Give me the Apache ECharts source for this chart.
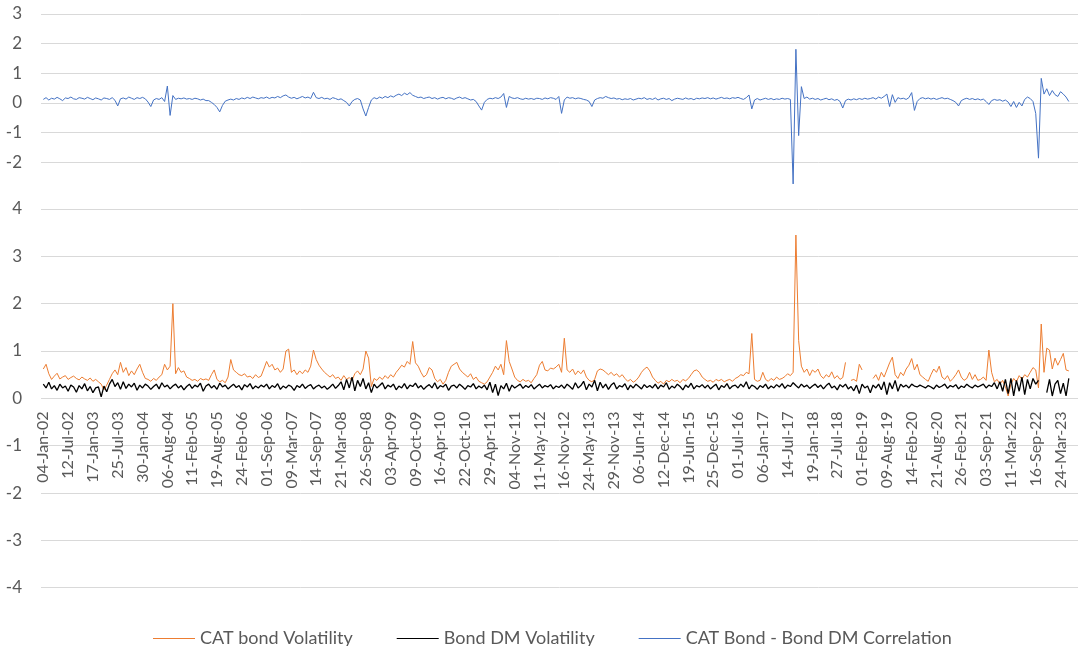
<!DOCTYPE html>
<html>
<head>
<meta charset="utf-8">
<script src="https://cdn.jsdelivr.net/npm/echarts@6/dist/echarts.min.js"></script>
<style>
  html, body { margin: 0; padding: 0; background: #fff; }
  #chart { width: 1078px; height: 646px; }
</style>
</head>
<body>
<div id="chart"></div>
<script>
// x tick labels, one every 27 weeks starting 04-Jan-02
const tickLabels = [
  '04-Jan-02', '12-Jul-02', '17-Jan-03', '25-Jul-03', '30-Jan-04', '06-Aug-04', '11-Feb-05',
  '19-Aug-05', '24-Feb-06', '01-Sep-06', '09-Mar-07', '14-Sep-07', '21-Mar-08', '26-Sep-08',
  '03-Apr-09', '09-Oct-09', '16-Apr-10', '22-Oct-10', '29-Apr-11', '04-Nov-11', '11-May-12',
  '16-Nov-12', '24-May-13', '29-Nov-13', '06-Jun-14', '12-Dec-14', '19-Jun-15', '25-Dec-15',
  '01-Jul-16', '06-Jan-17', '14-Jul-17', '19-Jan-18', '27-Jul-18', '01-Feb-19', '09-Aug-19',
  '14-Feb-20', '21-Aug-20', '26-Feb-21', '03-Sep-21', '11-Mar-22', '16-Sep-22', '24-Mar-23'
];
const weeksPerTick = 27;
const weekStep = 3; // one reading every 3 weeks

// CAT bond Volatility
const catVol = [
  0.62,0.72,0.52,0.4,0.47,0.53,0.41,0.45,0.48,0.4,0.44,0.47,0.42,0.39,0.45,0.41,0.38,0.43,0.36,0.4,
  0.35,0.3,0.18,0.28,0.4,0.52,0.6,0.5,0.76,0.55,0.65,0.48,0.58,0.5,0.62,0.72,0.55,0.42,0.4,0.36,
  0.42,0.38,0.45,0.5,0.72,0.6,0.68,2.0,0.52,0.65,0.55,0.58,0.45,0.42,0.38,0.4,0.36,0.42,0.39,0.41,
  0.38,0.5,0.6,0.4,0.35,0.38,0.33,0.45,0.82,0.6,0.55,0.5,0.48,0.52,0.45,0.47,0.42,0.5,0.44,0.47,
  0.62,0.78,0.66,0.72,0.6,0.64,0.55,0.62,1.0,1.04,0.55,0.6,0.5,0.58,0.52,0.6,0.55,0.68,1.02,0.82,
  0.7,0.62,0.55,0.5,0.45,0.5,0.42,0.45,0.38,0.48,0.4,0.44,0.38,0.52,0.58,0.5,0.62,1.0,0.85,0.25,
  0.42,0.38,0.45,0.4,0.48,0.42,0.5,0.45,0.55,0.62,0.7,0.66,0.78,0.72,1.2,0.75,0.68,0.55,0.45,0.5,
  0.65,0.6,0.42,0.35,0.4,0.3,0.38,0.55,0.68,0.72,0.76,0.62,0.55,0.5,0.45,0.52,0.4,0.45,0.36,0.33,
  0.3,0.35,0.45,0.55,0.68,0.6,0.72,0.5,1.22,0.78,0.62,0.45,0.38,0.35,0.4,0.36,0.38,0.33,0.42,0.5,
  0.7,0.78,0.6,0.58,0.64,0.62,0.66,0.72,0.55,1.27,0.6,0.55,0.62,0.5,0.58,0.52,0.6,0.45,0.38,0.35,
  0.4,0.58,0.62,0.6,0.55,0.5,0.55,0.48,0.52,0.45,0.5,0.42,0.36,0.4,0.34,0.38,0.45,0.55,0.62,0.66,
  0.58,0.45,0.38,0.32,0.36,0.3,0.38,0.35,0.4,0.36,0.38,0.33,0.4,0.37,0.42,0.5,0.58,0.6,0.55,0.45,
  0.4,0.36,0.38,0.34,0.4,0.37,0.4,0.35,0.38,0.4,0.36,0.42,0.45,0.5,0.48,0.55,0.52,1.37,0.4,0.36,
  0.38,0.55,0.4,0.36,0.42,0.38,0.45,0.4,0.42,0.46,0.52,0.48,0.55,3.45,1.22,0.68,0.55,0.62,0.48,0.6,
  0.55,0.62,0.48,0.42,0.5,0.45,0.56,0.42,0.48,0.4,0.44,0.76,null,0.38,0.4,0.36,0.72,0.6,null,null,
  null,0.42,0.5,0.38,0.55,0.45,0.6,0.75,0.87,0.5,0.42,0.55,0.48,0.62,0.7,0.84,0.6,0.72,0.5,0.45,
  0.4,0.36,0.5,0.62,0.55,0.68,0.45,0.4,0.48,0.36,0.42,0.5,0.6,0.45,0.38,0.42,0.55,0.4,0.5,0.38,
  0.4,0.45,0.38,1.02,0.55,0.35,0.4,0.3,0.38,0.25,0.05,0.3,0.42,0.35,0.48,0.4,0.5,0.45,0.55,0.65,
  0.6,0.22,1.57,0.55,1.06,1.02,0.62,0.85,0.7,0.82,0.95,0.6,0.58
];

// Bond DM Volatility
const dmVol = [
  0.3,0.22,0.34,0.2,0.27,0.17,0.3,0.22,0.26,0.15,0.28,0.24,0.13,0.27,0.2,0.31,0.16,0.25,0.12,0.22,
  0.24,0.03,0.26,0.14,0.3,0.4,0.25,0.33,0.19,0.35,0.21,0.3,0.24,0.32,0.17,0.28,0.22,0.3,0.26,0.19,
  0.25,0.3,0.2,0.33,0.24,0.28,0.2,0.26,0.3,0.22,0.27,0.18,0.25,0.3,0.21,0.28,0.24,0.32,0.15,0.26,
  0.3,0.22,0.27,0.19,0.32,0.24,0.28,0.2,0.25,0.3,0.23,0.27,0.18,0.29,0.24,0.31,0.2,0.26,0.22,0.28,
  0.24,0.3,0.2,0.27,0.23,0.31,0.19,0.26,0.22,0.28,0.25,0.17,0.27,0.23,0.3,0.21,0.26,0.29,0.2,0.25,
  0.28,0.22,0.26,0.19,0.24,0.3,0.21,0.27,0.35,0.18,0.4,0.22,0.45,0.16,0.38,0.25,0.42,0.2,0.33,0.12,
  0.3,0.22,0.27,0.33,0.2,0.28,0.24,0.3,0.18,0.26,0.22,0.31,0.2,0.28,0.25,0.32,0.22,0.27,0.19,0.25,
  0.29,0.22,0.33,0.2,0.27,0.24,0.3,0.17,0.26,0.28,0.22,0.3,0.25,0.19,0.27,0.24,0.31,0.2,0.26,0.22,
  0.28,0.18,0.34,0.12,0.3,0.06,0.27,0.2,0.32,0.15,0.28,0.22,0.26,0.3,0.21,0.27,0.23,0.29,0.2,0.25,
  0.3,0.22,0.27,0.24,0.29,0.2,0.26,0.23,0.28,0.21,0.3,0.25,0.19,0.33,0.22,0.27,0.36,0.18,0.3,0.24,
  0.38,0.16,0.34,0.22,0.3,0.19,0.28,0.33,0.2,0.27,0.24,0.31,0.18,0.28,0.22,0.3,0.25,0.2,0.29,0.23,
  0.27,0.22,0.3,0.2,0.28,0.24,0.33,0.19,0.26,0.22,0.3,0.25,0.18,0.28,0.23,0.32,0.2,0.27,0.24,0.29,
  0.22,0.28,0.2,0.25,0.3,0.18,0.27,0.23,0.31,0.2,0.26,0.28,0.22,0.3,0.24,0.35,0.2,0.28,0.25,0.19,
  0.27,0.23,0.3,0.2,0.26,0.22,0.29,0.24,0.31,0.21,0.28,0.25,0.33,0.27,0.22,0.3,0.24,0.28,0.21,0.26,
  0.3,0.23,0.28,0.2,0.27,0.32,0.22,0.26,0.18,0.29,0.24,0.3,0.2,0.25,0.16,0.28,0.1,0.3,0.22,0.26,
  0.12,0.28,0.22,0.3,0.18,0.35,0.08,0.33,0.2,0.38,0.15,0.3,0.24,0.28,0.22,0.3,0.26,0.24,0.28,0.25,
  0.22,0.27,0.24,0.2,0.28,0.23,0.26,0.3,0.21,0.27,0.24,0.29,0.2,0.26,0.23,0.3,0.25,0.22,0.28,0.24,
  0.27,0.3,0.22,0.28,0.25,0.33,0.2,0.35,0.15,0.4,0.1,0.42,0.05,0.38,0.15,0.45,0.08,0.4,0.2,0.42,
  0.3,0.38,null,null,0.12,0.4,0.05,0.3,0.38,0.1,0.32,0.05,0.42
];

// CAT Bond - Bond DM Correlation
const corr = [
  0.12,0.18,0.1,0.16,0.13,0.19,0.14,0.08,0.17,0.15,0.2,0.14,0.12,0.18,0.16,0.13,0.19,0.15,0.11,0.17,
  0.14,0.1,0.17,0.15,0.12,0.18,0.09,-0.1,0.14,0.17,0.13,0.2,0.16,0.12,0.18,0.15,0.19,0.14,0.03,-0.12,
  0.1,0.15,0.12,0.18,0.05,0.57,-0.42,0.25,0.12,0.16,0.14,0.17,0.13,0.15,0.12,0.16,0.14,0.1,0.13,0.08,
  0.08,0.02,-0.05,-0.15,-0.3,-0.08,0.06,0.1,0.13,0.1,0.15,0.12,0.17,0.14,0.19,0.15,0.2,0.17,0.14,0.18,
  0.16,0.2,0.15,0.19,0.17,0.22,0.18,0.24,0.27,0.2,0.16,0.19,0.14,0.18,0.22,0.17,0.2,0.15,0.36,0.18,
  0.15,0.19,0.14,0.16,0.12,0.18,0.15,0.11,0.14,0.08,0.02,-0.1,0.05,0.12,0.15,0.1,-0.2,-0.44,-0.15,0.1,
  0.18,0.14,0.2,0.16,0.22,0.18,0.24,0.2,0.26,0.3,0.25,0.33,0.28,0.35,0.26,0.22,0.18,0.2,0.15,0.18,
  0.2,0.15,0.18,0.13,0.17,0.19,0.14,0.18,0.16,0.12,0.17,0.2,0.15,0.18,0.14,0.1,0.12,0.05,-0.1,-0.24,
  0.02,0.12,0.16,0.14,0.18,0.15,0.2,0.32,-0.15,0.22,0.17,0.15,0.18,0.14,0.12,0.16,0.13,0.15,0.12,0.16,
  0.15,0.12,0.17,0.14,0.18,0.16,0.12,0.22,-0.35,0.1,0.2,0.16,0.18,0.14,0.17,0.15,0.12,0.1,0.05,-0.12,
  0.1,0.15,0.18,0.16,0.22,0.18,0.15,0.17,0.13,0.15,0.11,0.14,0.12,0.15,0.1,0.13,0.16,0.14,0.18,0.12,
  0.15,0.12,0.17,0.1,0.14,0.16,0.12,0.15,0.08,0.13,0.16,0.14,0.12,0.17,0.13,0.15,0.11,0.16,0.14,0.17,
  0.15,0.18,0.14,0.17,0.13,0.16,0.19,0.15,0.17,0.14,0.18,0.16,0.19,0.15,0.12,0.18,0.27,-0.2,0.1,0.15,
  0.1,0.13,0.16,0.12,0.15,0.11,0.14,0.12,0.16,0.13,0.15,0.12,-2.73,1.81,-1.1,0.55,0.15,0.2,0.13,0.16,
  0.12,0.15,0.1,0.13,0.16,0.11,0.14,0.09,0.12,0.05,-0.17,0.08,0.13,0.1,0.14,0.11,0.15,0.12,0.16,0.13,
  0.15,0.18,0.13,0.2,0.16,0.22,0.3,-0.12,0.28,0.02,0.18,0.14,0.16,0.12,0.18,0.35,-0.25,0.05,0.15,0.18,
  0.14,0.17,0.13,0.16,0.12,0.15,0.18,0.14,0.16,0.12,0.08,0.02,-0.1,0.08,0.13,0.16,0.12,0.15,0.11,0.14,
  0.1,0.13,0.05,-0.05,0.08,0.12,0.09,0.11,0.06,0.1,0.03,-0.12,0.05,-0.15,0.02,-0.1,0.12,0.2,0.15,0.05,
  -0.35,-1.86,0.83,0.3,0.48,0.25,0.42,0.28,0.22,0.38,0.3,0.2,0.05
];

const toPoints = arr => arr.map((v, i) => [i * weekStep, v]);

const textGray = '#595959';
const gridGray = '#d9d9d9';
const font = 'Lato, "Liberation Sans", sans-serif';

const yCommon = {
  type: 'value',
  interval: 1,
  axisLine: { show: false },
  axisTick: { show: false },
  axisLabel: { color: textGray, fontSize: 17, fontFamily: font, margin: 19 },
  splitLine: { lineStyle: { color: gridGray, width: 1 } }
};
const xRange = { type: 'value', min: -2.5, max: 1126 };
const lowerTop = 209, lowerHeight = 378.7;

const chart = echarts.init(document.getElementById('chart'), null, { renderer: 'canvas' });
chart.setOption({
  animation: false,
  backgroundColor: '#fff',
  grid: [
    { left: 41, right: 0, top: 14, height: 148.3, outerBoundsMode: 'none', containLabel: false },
    { left: 41, right: 0, top: lowerTop, height: lowerHeight, outerBoundsMode: 'none', containLabel: false }
  ],
  xAxis: [
    Object.assign({ gridIndex: 0, show: false }, xRange),
    Object.assign({
      gridIndex: 1,
      // labels sit on the zero line, half way up the -4..4 panel
      offset: -lowerHeight / 2,
      axisLine: { show: false, onZero: false },
      axisTick: { show: false },
      splitLine: { show: false },
      axisLabel: {
        customValues: tickLabels.map((_, k) => k * weeksPerTick),
        rotate: 90,
        margin: 13,
        color: textGray,
        fontSize: 16,
        fontFamily: font,
        formatter: v => tickLabels[Math.round(v / weeksPerTick)] || ''
      }
    }, xRange)
  ],
  yAxis: [
    Object.assign({ gridIndex: 0, min: -2, max: 3 }, yCommon),
    Object.assign({ gridIndex: 1, min: -4, max: 4 }, yCommon)
  ],
  legend: {
    left: 148,
    top: 624.5,
    icon: 'rect',
    itemWidth: 42,
    itemHeight: 1,
    itemGap: 44,
    textStyle: { color: textGray, fontSize: 18, fontFamily: font },
    data: ['CAT bond Volatility', 'Bond DM Volatility', 'CAT Bond - Bond DM Correlation']
  },
  series: [
    {
      name: 'CAT bond Volatility', type: 'line', xAxisIndex: 1, yAxisIndex: 1,
      data: toPoints(catVol), symbol: 'none', connectNulls: false,
      lineStyle: { color: '#ED7D31', width: 1 }, itemStyle: { color: '#ED7D31' }
    },
    {
      name: 'Bond DM Volatility', type: 'line', xAxisIndex: 1, yAxisIndex: 1,
      data: toPoints(dmVol), symbol: 'none',
      lineStyle: { color: '#000000', width: 1.3 }, itemStyle: { color: '#000000' }
    },
    {
      name: 'CAT Bond - Bond DM Correlation', type: 'line', xAxisIndex: 0, yAxisIndex: 0,
      data: toPoints(corr), symbol: 'none', clip: false,
      lineStyle: { color: '#4472C4', width: 1 }, itemStyle: { color: '#4472C4' }
    }
  ]
});
</script>
</body>
</html>
